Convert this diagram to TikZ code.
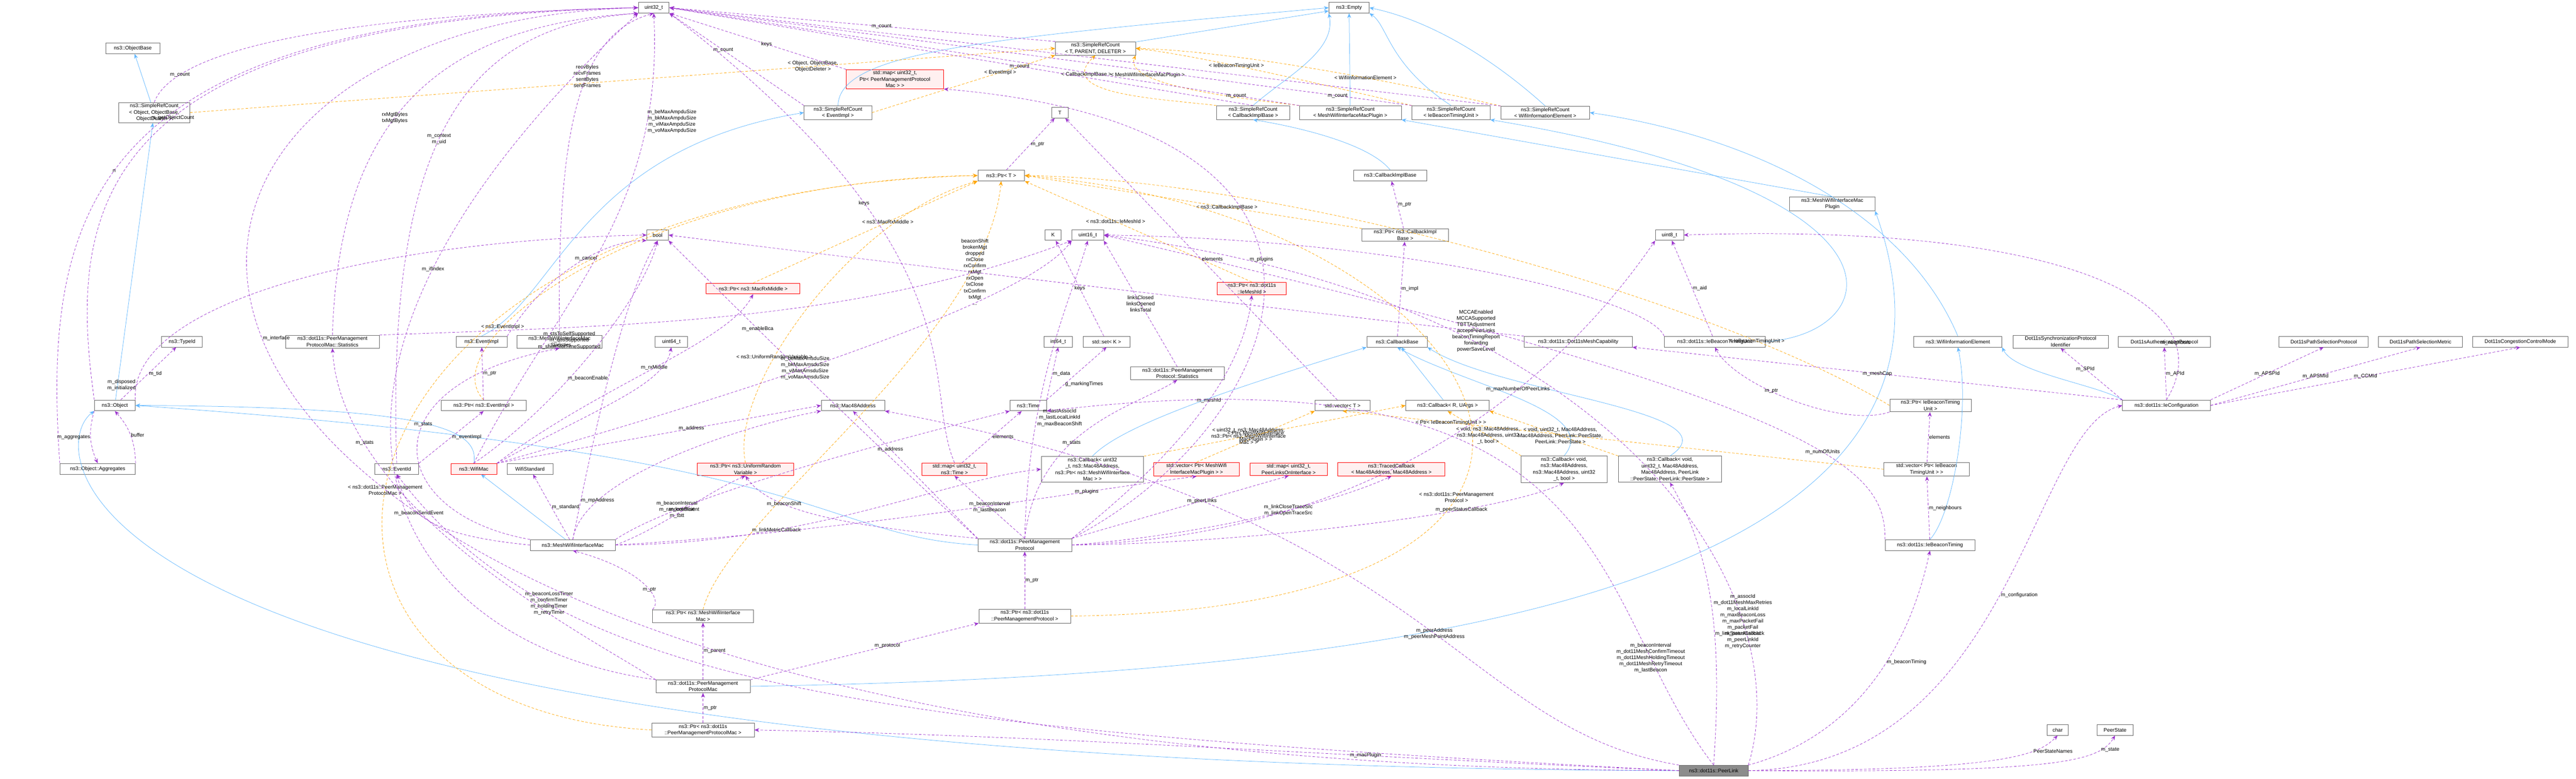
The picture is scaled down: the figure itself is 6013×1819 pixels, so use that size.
\documentclass[tikz,border=0pt]{standalone}
\usepackage{fontspec}
\setmainfont{Liberation Sans}
\usetikzlibrary{arrows.meta}
\definecolor{mem}{HTML}{9A32CD}
\definecolor{tpl}{HTML}{FFA500}
\definecolor{inhc}{HTML}{63B8FF}
\definecolor{redb}{HTML}{FF0000}
\definecolor{redf}{HTML}{FFF0F0}
\begin{document}
\begin{tikzpicture}[x=1pt,y=-1pt,
  font=\fontsize{12}{15}\selectfont,
  box/.style={draw=black!60,fill=white,line width=1pt,minimum height=25pt,inner sep=3pt,align=center},
  rbox/.style={box,draw=redb,fill=redf},
  gbox/.style={box,fill=black!45},
  inh/.style={draw=inhc,line width=0.9pt,-{Stealth[length=11pt,width=9pt]}},
  memb/.style={draw=mem,line width=0.9pt,dashed,dash pattern=on 6pt off 4pt,-{Stealth[length=11pt,width=9pt]}},
  tmpl/.style={draw=tpl,line width=0.9pt,dash pattern=on 6pt off 4pt,-{Stealth[length=11pt,width=9pt]}},
  lbl/.style={font=\fontsize{12}{14.5}\selectfont,align=center,fill=white,fill opacity=0.0,text opacity=1,inner sep=1pt}]
\useasboundingbox (0,0) rectangle (6013,1819);
% ---------- nodes ----------
\node[box,minimum width=72] (u32) at (1526,18) {uint32\_t};
\node[box,minimum width=94] (empty) at (3149,18) {ns3::Empty};
\node[box,minimum width=126] (objbase) at (310,113) {ns3::ObjectBase};
\node[box,minimum width=166] (srcobj) at (360,263) {ns3::SimpleRefCount\\< Object, ObjectBase,\\ObjectDeleter >};
\node[box,minimum width=187] (srctpd) at (2557,113) {ns3::SimpleRefCount\\< T, PARENT, DELETER >};
\node[rbox,minimum width=227] (mappmpm) at (2089,185) {std::map< uint32\_t,\\Ptr< PeerManagementProtocol\\Mac > >};
\node[box,minimum width=158] (srcev) at (1956,263) {ns3::SimpleRefCount\\< EventImpl >};
\node[box,minimum width=38] (T) at (2474,263) {T};
\node[box,minimum width=170] (srccib) at (2925,263) {ns3::SimpleRefCount\\< CallbackImplBase >};
\node[box,minimum width=238] (srcplug) at (3152,263) {ns3::SimpleRefCount\\< MeshWifiInterfaceMacPlugin >};
\node[box,minimum width=182] (srcbtu) at (3387,263) {ns3::SimpleRefCount\\< IeBeaconTimingUnit >};
\node[box,minimum width=207] (srcwie) at (3607,263) {ns3::SimpleRefCount\\< WifiInformationElement >};
\node[box,minimum width=109] (ptrT) at (2337,410) {ns3::Ptr< T >};
\node[box,minimum width=171] (cib) at (3245,410) {ns3::CallbackImplBase};
\node[box,minimum width=199] (plugin) at (4277,476) {ns3::MeshWifiInterfaceMac\\Plugin};
\node[box,minimum width=50] (bool) at (1535,549) {bool};
\node[box,minimum width=37] (K) at (2458,549) {K};
\node[box,minimum width=74] (u16) at (2539,549) {uint16\_t};
\node[box,minimum width=66] (u8) at (3897,549) {uint8\_t};
\node[box,minimum width=202] (ptrcib) at (3280,549) {ns3::Ptr< ns3::CallbackImpl\\Base >};
\node[rbox,minimum width=219] (ptrrx) at (1758,674) {ns3::Ptr< ns3::MacRxMiddle >};
\node[rbox,minimum width=161] (ptrmesh) at (2922,674) {ns3::Ptr< ns3::dot11s\\::IeMeshId >};
\node[box,minimum width=95] (typeid) at (425,798) {ns3::TypeId};
\node[box,minimum width=219] (pmpmstats) at (776,798) {ns3::dot11s::PeerManagement\\ProtocolMac::Statistics};
\node[box,minimum width=119] (evimpl) at (1124,798) {ns3::EventImpl};
\node[box,minimum width=198] (mwistats) at (1306,798) {ns3::MeshWifiInterfaceMac\\::Statistics};
\node[box,minimum width=75] (u64) at (1567,798) {uint64\_t};
\node[box,minimum width=67] (i64) at (2470,798) {int64\_t};
\node[box,minimum width=110] (setK) at (2583,798) {std::set< K >};
\node[box,minimum width=141] (cbbase) at (3261,798) {ns3::CallbackBase};
\node[box,minimum width=252] (meshcap) at (3684,798) {ns3::dot11s::Dot11sMeshCapability};
\node[box,minimum width=236] (btu) at (4003,798) {ns3::dot11s::IeBeaconTimingUnit};
\node[box,minimum width=206] (wie) at (4570,798) {ns3::WifiInformationElement};
\node[box,minimum width=223] (syncp) at (4810,798) {Dot11sSynchronizationProtocol\\Identifier};
\node[box,minimum width=215] (authp) at (5052,798) {Dot11sAuthenticationProtocol};
\node[box,minimum width=208] (pathp) at (5424,798) {Dot11sPathSelectionProtocol};
\node[box,minimum width=196] (pathm) at (5650,798) {Dot11sPathSelectionMetric};
\node[box,minimum width=222] (ccm) at (5883,798) {Dot11sCongestionControlMode};
\node[box,minimum width=219] (pmpstats) at (2748,872) {ns3::dot11s::PeerManagement\\Protocol::Statistics};
\node[box,minimum width=95] (object) at (268,947) {ns3::Object};
\node[box,minimum width=198] (ptrev) at (1129,947) {ns3::Ptr< ns3::EventImpl >};
\node[box,minimum width=148] (mac48) at (1991,947) {ns3::Mac48Address};
\node[box,minimum width=85] (time) at (2400,947) {ns3::Time};
\node[box,minimum width=129] (vecT) at (3134,947) {std::vector< T >};
\node[box,minimum width=195] (cbR) at (3379,947) {ns3::Callback< R, UArgs >};
\node[box,minimum width=190] (ptrbtu) at (4506,947) {ns3::Ptr< IeBeaconTiming\\Unit >};
\node[box,minimum width=205] (iecfg) at (5057,947) {ns3::dot11s::IeConfiguration};
\node[box,minimum width=176] (aggr) at (228,1095) {ns3::Object::Aggregates};
\node[box,minimum width=103] (eventid) at (926,1095) {ns3::EventId};
\node[rbox,minimum width=107] (wifimac) at (1106,1095) {ns3::WifiMac};
\node[box,minimum width=107] (wifistd) at (1237,1095) {WifiStandard};
\node[rbox,minimum width=224] (ptrurv) at (1740,1096) {ns3::Ptr< ns3::UniformRandom\\Variable >};
\node[rbox,minimum width=151] (maptime) at (2228,1096) {std::map< uint32\_t,\\ns3::Time >};
\node[box,minimum width=239] (cbu32) at (2550,1096) {ns3::Callback< uint32\\\_t, ns3::Mac48Address,\\ns3::Ptr< ns3::MeshWifiInterface\\Mac > >};
\node[rbox,minimum width=199] (vecplug) at (2793,1096) {std::vector< Ptr< MeshWifi\\InterfaceMacPlugin > >};
\node[rbox,minimum width=181] (mapplo) at (3008,1096) {std::map< uint32\_t,\\PeerLinksOnInterface >};
\node[rbox,minimum width=250] (traced) at (3248,1096) {ns3::TracedCallback\\< Mac48Address, Mac48Address >};
\node[box,minimum width=200] (cbv1) at (3651,1096) {ns3::Callback< void,\\ns3::Mac48Address,\\ns3::Mac48Address, uint32\\\_t, bool >};
\node[box,minimum width=241] (cbv2) at (3898,1096) {ns3::Callback< void,\\uint32\_t, Mac48Address,\\Mac48Address, PeerLink\\::PeerState, PeerLink::PeerState >};
\node[box,minimum width=199] (vecbtu) at (4497,1096) {std::vector< Ptr< IeBeacon\\TimingUnit > >};
\node[box,minimum width=199] (mwimac) at (1337,1273) {ns3::MeshWifiInterfaceMac};
\node[box,minimum width=219] (pmp) at (2392,1273) {ns3::dot11s::PeerManagement\\Protocol};
\node[box,minimum width=209] (btiming) at (4505,1273) {ns3::dot11s::IeBeaconTiming};
\node[box,minimum width=235] (ptrmwi) at (1641,1439) {ns3::Ptr< ns3::MeshWifiInterface\\Mac >};
\node[box,minimum width=214] (ptrpmp) at (2392,1439) {ns3::Ptr< ns3::dot11s\\::PeerManagementProtocol >};
\node[box,minimum width=220] (pmpmac) at (1641,1603) {ns3::dot11s::PeerManagement\\ProtocolMac};
\node[box,minimum width=239] (ptrpmpmac) at (1641,1705) {ns3::Ptr< ns3::dot11s\\::PeerManagementProtocolMac >};
\node[box,minimum width=50] (char) at (4803,1705) {char};
\node[box,minimum width=85] (peerstate) at (4937,1705) {PeerState};
\node[gbox,minimum width=161] (peerlink) at (4000,1800) {ns3::dot11s::PeerLink};
% ---------- inheritance ----------
\draw[inh] (srcobj) -- (objbase);
\draw[inh] (object) -- (srcobj);
\draw[inh] (srctpd) -- (empty);
\draw[inh] (srcev.north) .. controls (1960,120) and (2300,90) .. (empty.west);
\draw[inh] (srccib.north) .. controls (3000,180) and (3120,120) .. (empty.south west);
\draw[inh] (srcplug) -- (empty);
\draw[inh] (srcbtu.north) .. controls (3240,150) and (3240,60) .. (empty.south east);
\draw[inh] (srcwie.north) .. controls (3500,150) and (3350,50) .. (empty.east);
\draw[inh] (evimpl.north) .. controls (1300,700) and (1350,350) .. (srcev.west);
\draw[inh] (cib.north) .. controls (3200,340) and (3050,300) .. (srccib.south);
\draw[inh] (plugin.north) -- (srcplug.south east);
\draw[inh] (btu.east) .. controls (4400,780) and (4500,450) .. (srcbtu.south east);
\draw[inh] (wie.north) .. controls (4450,500) and (4100,320) .. (srcwie.east);
\draw[inh] (wifimac.north) .. controls (1120,1000) and (1000,950) .. (object.east);
\draw[inh] (mwimac) -- (wifimac);
\draw[inh] (pmp.west) .. controls (1900,1250) and (1950,1060) .. (object.east);
\draw[inh] (pmpmac.east) .. controls (3200,1580) and (4700,1400) .. (plugin.south east);
\draw[inh] (peerlink.west) .. controls (100,1790) and (100,1050) .. (object.south west);
\draw[inh] (cbR) -- (cbbase);
\draw[inh] (cbu32.north) .. controls (2620,990) and (2900,900) .. (cbbase.south west);
\draw[inh] (cbv1.north) .. controls (3740,960) and (3420,900) .. (cbbase.south);
\draw[inh] (cbv2.north) .. controls (4060,960) and (3500,920) .. (cbbase.south east);
\draw[inh] (btiming.north) .. controls (4560,1200) and (4600,950) .. (wie.south);
\draw[inh] (iecfg.north west) .. controls (4900,900) and (4700,870) .. (wie.south east);
% ---------- templates ----------
\draw[tmpl] (srcobj.east) -- node[lbl,pos=0.72]{< Object, ObjectBase,\\ObjectDeleter >} (srctpd.west);
\draw[tmpl] (srcev.east) -- node[lbl,pos=0.7]{< EventImpl >} (srctpd.south west);
\draw[tmpl] (srccib.north west) .. controls (2700,230) and (2460,220) .. node[lbl,pos=0.8]{< CallbackImplBase >} (srctpd.south);
\draw[tmpl] (srcplug.north west) .. controls (2900,230) and (2620,200) .. node[lbl,pos=0.75]{< MeshWifiInterfaceMacPlugin >} (srctpd.south east);
\draw[tmpl] (srcbtu.north west) .. controls (3100,200) and (2800,130) .. node[lbl,pos=0.6]{< IeBeaconTimingUnit >} (srctpd.east);
\draw[tmpl] (srcwie.north west) .. controls (3300,200) and (2900,120) .. node[lbl,pos=0.4]{< WifiInformationElement >} (srctpd.east);
\draw[tmpl] (ptrrx.north) -- node[lbl,pos=0.6]{< ns3::MacRxMiddle >} (ptrT.south west);
\draw[tmpl] (ptrmesh.north) -- node[lbl,pos=0.6]{< ns3::dot11s::IeMeshId >} (ptrT.south east);
\draw[tmpl] (ptrcib.north west) -- node[lbl,pos=0.4]{< ns3::CallbackImplBase >} (ptrT.east);
\draw[tmpl] (ptrev.north) .. controls (1000,800) and (1500,420) .. node[lbl,pos=0.3]{< ns3::EventImpl >} (ptrT.west);
\draw[tmpl] (ptrurv.north) .. controls (1700,900) and (2000,500) .. node[lbl,pos=0.35]{< ns3::UniformRandomVariable >} (ptrT.south west);
\draw[tmpl] (ptrmwi.north) .. controls (1700,1200) and (2300,800) .. (ptrT.south);
\draw[tmpl] (ptrpmp.east) .. controls (4000,1420) and (3500,500) .. node[lbl,pos=0.35]{< ns3::dot11s::PeerManagement\\Protocol >} (ptrT.east);
\draw[tmpl] (ptrpmpmac.west) .. controls (500,1650) and (700,450) .. node[lbl,pos=0.45]{< ns3::dot11s::PeerManagement\\ProtocolMac >} (ptrT.west);
\draw[tmpl] (ptrbtu.west) .. controls (4000,700) and (3000,420) .. node[lbl,pos=0.2]{< IeBeaconTimingUnit >} (ptrT.east);
\draw[tmpl] (vecplug.north) -- node[lbl,pos=0.5]{< Ptr< MeshWifiInterface\\MacPlugin > >} (vecT.south west);
\draw[tmpl] (vecbtu.west) -- node[lbl,pos=0.8]{< Ptr< IeBeaconTimingUnit > >} (vecT.south);
\draw[tmpl] (cbu32.north east) -- node[lbl,pos=0.4]{< uint32\_t, ns3::Mac48Address,\\ns3::Ptr< ns3::MeshWifiInterface\\Mac > >} (cbR.west);
\draw[tmpl] (cbv1.north west) -- node[lbl,pos=0.45]{< void, ns3::Mac48Address,\\ns3::Mac48Address, uint32\\\_t, bool >} (cbR.south);
\draw[tmpl] (cbv2.north west) -- node[lbl,pos=0.45]{< void, uint32\_t, Mac48Address,\\Mac48Address, PeerLink::PeerState,\\PeerLink::PeerState >} (cbR.south east);
% ---------- members ----------
\draw[memb] (srcobj.north) .. controls (420,80) and (1000,30) .. node[lbl,pos=0.15]{m\_count} (u32.west);
\draw[memb] (srcev.north west) -- node[lbl,pos=0.6]{m\_count} (u32.south east);
\draw[memb] (srctpd.north west) -- node[lbl,pos=0.45]{m\_count} (u32.east);
\draw[memb] (srccib.north) -- node[lbl,pos=0.4]{m\_count} (u32.east);
\draw[memb] (srcplug.north west) -- node[lbl,pos=0.1]{m\_count} (u32.east);
\draw[memb] (srcbtu.north west) -- node[lbl,pos=0.1]{m\_count} (u32.east);
\draw[memb] (srcwie.north west) -- (u32.east);
\draw[memb] (mappmpm.north west) -- node[lbl,pos=0.45]{keys} (u32.south east);
\draw[memb] (object.north west) .. controls (160,500) and (200,50) .. node[lbl,pos=0.55]{m\_getObjectCount} (u32.west);
\draw[memb] (aggr.north west) .. controls (100,500) and (200,40) .. node[lbl,pos=0.45]{n} (u32.west);
\draw[memb] (object) -- node[lbl,pos=0.5,right]{m\_tid} (typeid);
\draw[memb] (object.north east) .. controls (300,700) and (900,560) .. node[lbl,pos=0.05,left]{m\_disposed\\m\_initialized} (bool.west);
\draw[memb] (object.south west) to[bend right=20] node[lbl,left]{m\_aggregates} (aggr.north);
\draw[memb] (aggr.north east) to[bend right=20] node[lbl,right]{buffer} (object.south);
\draw[memb] (pmpmstats.north) .. controls (790,300) and (1000,60) .. node[lbl,pos=0.45]{rxMgtBytes\\txMgtBytes} (u32.south west);
\draw[memb] (eventid.north) .. controls (900,300) and (1100,60) .. node[lbl,pos=0.45]{m\_context\\m\_uid} (u32.south west);
\draw[memb] (mwistats.north) .. controls (1300,300) and (1350,80) .. node[lbl,pos=0.6]{recvBytes\\recvFrames\\sentBytes\\sentFrames} (u32.south);
\draw[memb] (evimpl.north east) .. controls (1300,600) and (1450,560) .. node[lbl,pos=0.5]{m\_cancel} (bool.south west);
\draw[memb] (ptrev) -- node[lbl,right]{m\_ptr} (evimpl);
\draw[memb] (eventid.north east) -- node[lbl,pos=0.5,right]{m\_eventImpl} (ptrev.south);
\draw[memb] (ptrT) -- node[lbl,pos=0.5,right]{m\_ptr} (T);
\draw[memb] (ptrcib) -- node[lbl,right]{m\_ptr} (cib);
\draw[memb] (cbbase) -- node[lbl,right]{m\_impl} (ptrcib);
\draw[memb] (wifimac.north east) .. controls (1400,900) and (1700,800) .. node[lbl,pos=0.5]{m\_rxMiddle} (ptrrx.south);
\draw[memb] (wifimac.north east) .. controls (1400,950) and (1550,900) .. (u64.south);
\draw[memb] (wifimac.north) .. controls (1300,950) and (1500,700) .. node[lbl,pos=0.55,left]{m\_ctsToSelfSupported\\m\_qosSupported\\m\_shortSlotTimeSupported} (bool.south);
\draw[memb] (wifimac.north east) .. controls (1800,900) and (2400,700) .. node[lbl,pos=0.4]{m\_beMaxAmsduSize\\m\_bkMaxAmsduSize\\m\_viMaxAmsduSize\\m\_voMaxAmsduSize} (u16.south west);
\draw[memb] (wifimac.north) .. controls (1300,700) and (1550,500) .. node[lbl,pos=0.8,right]{m\_beMaxAmpduSize\\m\_bkMaxAmpduSize\\m\_viMaxAmpduSize\\m\_voMaxAmpduSize} (u32.south);
\draw[memb] (wifimac.north east) -- node[lbl,pos=0.6]{m\_address} (mac48.west);
\draw[memb] (mwimac) -- node[lbl,right]{m\_standard} (wifistd);
\draw[memb] (mwimac.west) .. controls (1000,1250) and (950,1200) .. node[lbl,pos=0.6]{m\_beaconSendEvent} (eventid.south);
\draw[memb] (mwimac.north west) .. controls (900,1200) and (850,900) .. node[lbl,pos=0.6]{m\_stats} (mwistats.south);
\draw[memb] (mwimac.north) .. controls (1380,1050) and (1450,700) .. node[lbl,pos=0.5,left]{m\_beaconEnable} (bool.south);
\draw[memb] (mwimac.north) .. controls (1360,1100) and (1800,980) .. node[lbl,pos=0.2]{m\_mpAddress} (mac48.south west);
\draw[memb] (mwimac.north east) .. controls (1600,1150) and (2200,1000) .. node[lbl,pos=0.2]{m\_beaconInterval\\m\_randomStart\\m\_tbtt} (time.south west);
\draw[memb] (mwimac.east) .. controls (1550,1230) and (1650,1150) .. node[lbl,pos=0.5]{m\_coefficient} (ptrurv.south);
\draw[memb] (mwimac.east) .. controls (1900,1270) and (2200,1120) .. node[lbl,pos=0.3]{m\_linkMetricCallback} (cbu32.west);
\draw[memb] (mwimac.east) .. controls (2000,1240) and (2500,1150) .. node[lbl,pos=0.75]{m\_plugins} (vecplug.south);
\draw[memb] (pmpmac) -- node[lbl,right]{m\_parent} (ptrmwi);
\draw[memb] (pmpmac.north east) -- node[lbl,pos=0.6]{m\_protocol} (ptrpmp.south west);
\draw[memb] (pmpmac.north west) .. controls (1400,1500) and (800,1200) .. node[lbl,pos=0.8]{m\_stats} (pmpmstats.south);
\draw[memb] (pmpmac.north west) .. controls (900,1500) and (550,900) .. node[lbl,pos=0.75]{m\_ifIndex} (u32.south west);
\draw[memb] (ptrpmpmac) -- node[lbl,right]{m\_ptr} (pmpmac);
\draw[memb] (ptrmwi.north west) .. controls (1550,1400) and (1500,1330) .. node[lbl,pos=0.4]{m\_ptr} (mwimac.south);
\draw[memb] (ptrpmp) -- node[lbl,right]{m\_ptr} (pmp);
\draw[memb] (pmp.north west) -- node[lbl,pos=0.7]{m\_address} (mac48.south);
\draw[memb] (pmp.north) -- node[lbl,pos=0.5]{m\_beaconInterval\\m\_lastBeacon} (maptime.south);
\draw[memb] (pmp.north west) .. controls (2000,1230) and (1800,1200) .. node[lbl,pos=0.7]{m\_beaconShift} (ptrurv.south);
\draw[memb] (pmp.north west) .. controls (2000,1000) and (1800,800) .. node[lbl,pos=0.7]{m\_enableBca} (bool.south east);
\draw[memb] (pmp.north) .. controls (2420,1000) and (2650,950) .. node[lbl,pos=0.4]{m\_stats} (pmpstats.south);
\draw[memb] (pmp.north) .. controls (2400,900) and (2500,700) .. node[lbl,pos=0.3,right]{m\_lastAssocId\\m\_lastLocalLinkId\\m\_maxBeaconShift} (u16.south);
\draw[memb] (pmp.north east) -- node[lbl,pos=0.6]{m\_peerLinks} (mapplo.south);
\draw[memb] (pmp.east) .. controls (2800,1250) and (3100,1180) .. node[lbl,pos=0.6]{m\_linkCloseTraceSrc\\m\_linkOpenTraceSrc} (traced.south);
\draw[memb] (pmp.east) .. controls (2900,1270) and (3500,1200) .. node[lbl,pos=0.7]{m\_peerStatusCallback} (cbv1.south);
\draw[memb] (pmp.north east) .. controls (2700,1100) and (2900,900) .. node[lbl,pos=0.6]{m\_meshId} (ptrmesh.south);
\draw[memb] (pmp.east) .. controls (3300,1250) and (3700,800) .. node[lbl,pos=0.6]{m\_maxNumberOfPeerLinks} (u8.south west);
\draw[memb] (pmp.north east) .. controls (3000,1000) and (3300,300) .. node[lbl,pos=0.55]{m\_plugins} (mappmpm.south east);
\draw[memb] (maptime) -- node[lbl,pos=0.5,right]{elements} (time);
\draw[memb] (maptime.north) .. controls (2150,900) and (2300,600) .. node[lbl,pos=0.7]{keys} (u32.south east);
\draw[memb] (setK) -- node[lbl,pos=0.5]{keys} (K);
\draw[memb] (time.north east) -- node[lbl,pos=0.5,right]{m\_data} (i64.south);
\draw[memb] (time.north east) -- node[lbl,pos=0.3,right]{g\_markingTimes} (setK.south);
\draw[memb] (pmpstats.north) -- node[lbl,pos=0.5]{linksClosed\\linksOpened\\linksTotal} (u16.south east);
\draw[memb] (pmpmstats.north east) .. controls (1500,760) and (2000,750) .. node[lbl,pos=0.85]{beaconShift\\brokenMgt\\dropped\\rxClose\\rxConfirm\\rxMgt\\rxOpen\\txClose\\txConfirm\\txMgt\\...} (u16.south west);
\draw[memb] (meshcap.north west) .. controls (3300,760) and (1800,580) .. node[lbl,pos=0.1]{MCCAEnabled\\MCCASupported\\TBTTAdjustment\\acceptPeerLinks\\beaconTimingReport\\forwarding\\powerSaveLevel} (bool.east);
\draw[memb] (btu) -- node[lbl,pos=0.5,right]{m\_aid} (u8);
\draw[memb] (btu.north west) .. controls (3850,700) and (3300,560) .. (u16.east);
\draw[memb] (ptrbtu.south west) .. controls (4300,1000) and (4050,900) .. node[lbl,pos=0.6]{m\_ptr} (btu.south);
\draw[memb] (vecbtu) -- node[lbl,right]{elements} (ptrbtu);
\draw[memb] (btiming) -- node[lbl,right]{m\_neighbours} (vecbtu);
\draw[memb] (btiming.north west) .. controls (4400,1100) and (4300,950) .. node[lbl,pos=0.4]{m\_numOfUnits} (u16.east);
\draw[memb] (vecT) -- node[lbl,pos=0.5,right]{elements} (T);
\draw[memb] (iecfg.north west) -- node[lbl,pos=0.6]{m\_SPId} (syncp.south);
\draw[memb] (iecfg.north) -- node[lbl,pos=0.5,right]{m\_APId} (authp.south);
\draw[memb] (iecfg.north east) -- node[lbl,pos=0.5]{m\_APSPId} (pathp.south);
\draw[memb] (iecfg.east) -- node[lbl,pos=0.5]{m\_APSMId} (pathm.south);
\draw[memb] (iecfg.east) -- node[lbl,pos=0.5]{m\_CCMId} (ccm.south);
\draw[memb] (iecfg.north west) -- node[lbl,pos=0.5]{m\_meshCap} (meshcap.south east);
\draw[memb] (iecfg.north) .. controls (5200,700) and (4800,520) .. node[lbl,pos=0.2]{m\_neighbors} (u8.east);
\draw[memb] (peerlink.east) .. controls (4700,1790) and (4740,1000) .. node[lbl,pos=0.5,right]{m\_configuration} (iecfg.west);
\draw[memb] (peerlink.east) .. controls (4700,1800) and (4760,1760) .. node[lbl,pos=0.7,right]{PeerStateNames} (char.south);
\draw[memb] (peerlink.east) .. controls (4800,1805) and (4900,1780) .. node[lbl,pos=0.8,right]{m\_state} (peerstate.south);
\draw[memb] (peerlink.north east) .. controls (4400,1700) and (4480,1400) .. node[lbl,pos=0.5,right]{m\_beaconTiming} (btiming.south);
\draw[memb] (peerlink.north) .. controls (4020,1500) and (4000,1300) .. node[lbl,pos=0.4,right]{m\_linkStatusCallback} (cbv2.south);
\draw[memb] (peerlink.north west) .. controls (3400,1700) and (3350,1200) .. node[lbl,pos=0.45]{m\_peerAddress\\m\_peerMeshPointAddress} (mac48.south east);
\draw[memb] (peerlink.north) .. controls (3700,1400) and (3800,800) .. node[lbl,pos=0.2]{m\_beaconInterval\\m\_dot11MeshConfirmTimeout\\m\_dot11MeshHoldingTimeout\\m\_dot11MeshRetryTimeout\\m\_lastBeacon} (time.south east);
\draw[memb] (peerlink.north east) .. controls (4200,1400) and (3800,700) .. node[lbl,pos=0.25]{m\_assocId\\m\_dot11MeshMaxRetries\\m\_localLinkId\\m\_maxBeaconLoss\\m\_maxPacketFail\\m\_packetFail\\m\_peerAssocId\\m\_peerLinkId\\m\_retryCounter} (u16.east);
\draw[memb] (peerlink.west) .. controls (2000,1700) and (1300,1600) .. node[lbl,pos=0.75]{m\_beaconLossTimer\\m\_confirmTimer\\m\_holdingTimer\\m\_retryTimer} (eventid.south);
\draw[memb] (peerlink.west) .. controls (3000,1760) and (2500,1720) .. node[lbl,pos=0.3]{m\_macPlugin} (ptrpmpmac.east);
\draw[memb] (peerlink.west) .. controls (10,1790) and (10,60) .. node[lbl,pos=0.55,right]{m\_interface} (u32.west);
\end{tikzpicture}
\end{document}
